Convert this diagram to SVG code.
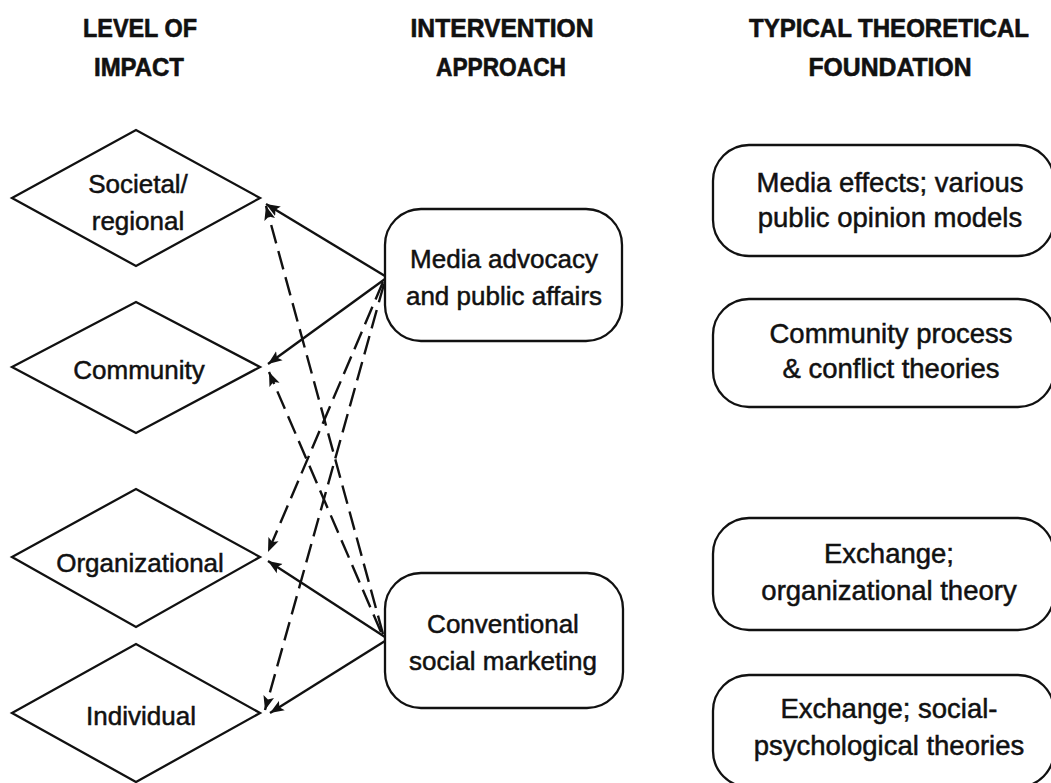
<svg xmlns="http://www.w3.org/2000/svg" width="1051" height="783" viewBox="0 0 1051 783">
  <style>
    .bg { fill: #ffffff; }
    .shape { fill: #ffffff; stroke: #111111; stroke-width: 2.3; }
    .label { font-family: "Liberation Sans", Arial, sans-serif; font-size: 26px; fill: #111111; stroke: #111111; stroke-width: 0.5; text-anchor: middle; }
    .wide { font-size: 27.5px; }
    .head { font-family: "Liberation Sans", Arial, sans-serif; font-size: 25px; font-weight: bold; fill: #111111; stroke: #111111; stroke-width: 0.6; text-anchor: middle; }
    .link { fill: none; stroke: #111111; stroke-width: 2.4; marker-end: url(#arrow); }
    .dash { stroke-dasharray: 19 8; }
  </style>
  <defs>
    <marker id="arrow" markerUnits="userSpaceOnUse" markerWidth="16" markerHeight="12" refX="14" refY="6" orient="auto">
      <path d="M0,0.5 L14,6 L0,11.5 L3,6 z" fill="#111111"/>
    </marker>
  </defs>

  <rect class="bg" x="0" y="0" width="1051" height="783"/>

  <!-- column headings -->
  <g id="headings">
    <text class="head" x="140" y="37" textLength="114" lengthAdjust="spacingAndGlyphs">LEVEL OF</text>
    <text class="head" x="139" y="76" textLength="90" lengthAdjust="spacingAndGlyphs">IMPACT</text>
    <text class="head" x="502" y="37" textLength="183" lengthAdjust="spacingAndGlyphs">INTERVENTION</text>
    <text class="head" x="501" y="76" textLength="130" lengthAdjust="spacingAndGlyphs">APPROACH</text>
    <text class="head" x="889" y="37" textLength="280" lengthAdjust="spacingAndGlyphs">TYPICAL THEORETICAL</text>
    <text class="head" x="890" y="76" textLength="163" lengthAdjust="spacingAndGlyphs">FOUNDATION</text>
  </g>

  <!-- connectors: solid = primary influence, dashed = secondary -->
  <g id="connectors">
    <line class="link" x1="385" y1="276" x2="266" y2="204"/>
    <line class="link" x1="385" y1="279" x2="268" y2="364"/>
    <line class="link" x1="385" y1="637" x2="268" y2="561"/>
    <line class="link" x1="385" y1="641" x2="270" y2="713"/>
    <line class="link dash" x1="383" y1="634" x2="266" y2="206"/>
    <line class="link dash" x1="381" y1="632" x2="269" y2="372"/>
    <line class="link dash" x1="383" y1="282" x2="268" y2="552"/>
    <line class="link dash" x1="384" y1="284" x2="265" y2="710"/>
  </g>

  <!-- level of impact -->
  <g id="societal">
    <polygon class="shape" points="12,198 136,130 260,198 136,266"/>
    <text class="label" x="138" y="193">Societal/</text>
    <text class="label" x="138" y="230">regional</text>
  </g>
  <g id="community">
    <polygon class="shape" points="12,367 136,302 260,367 136,433"/>
    <text class="label" x="139" y="379">Community</text>
  </g>
  <g id="organizational">
    <polygon class="shape" points="12,557 136,489 260,557 136,627"/>
    <text class="label" x="140" y="572">Organizational</text>
  </g>
  <g id="individual">
    <polygon class="shape" points="12,713 136,644 260,713 136,782"/>
    <text class="label" x="141" y="725">Individual</text>
  </g>

  <!-- intervention approach -->
  <g id="media-advocacy">
    <rect class="shape" x="385" y="209" width="237" height="132" rx="36" ry="36"/>
    <text class="label" x="504" y="268">Media advocacy</text>
    <text class="label" x="504" y="305">and public affairs</text>
  </g>
  <g id="social-marketing">
    <rect class="shape" x="385" y="573" width="238" height="135" rx="36" ry="36"/>
    <text class="label" x="503" y="633">Conventional</text>
    <text class="label" x="503" y="670">social marketing</text>
  </g>

  <!-- typical theoretical foundation -->
  <g id="media-effects">
    <rect class="shape" x="713" y="145" width="341" height="111" rx="36" ry="36"/>
    <text class="label wide" x="890" y="192">Media effects; various</text>
    <text class="label wide" x="890" y="227">public opinion models</text>
  </g>
  <g id="community-process">
    <rect class="shape" x="713" y="299" width="341" height="108" rx="36" ry="36"/>
    <text class="label wide" x="891" y="343">Community process</text>
    <text class="label wide" x="891" y="378">&amp; conflict theories</text>
  </g>
  <g id="exchange-organizational">
    <rect class="shape" x="713" y="518" width="341" height="112" rx="36" ry="36"/>
    <text class="label wide" x="889" y="563">Exchange;</text>
    <text class="label wide" x="889" y="600">organizational theory</text>
  </g>
  <g id="exchange-social">
    <rect class="shape" x="713" y="675" width="341" height="112" rx="36" ry="36"/>
    <text class="label wide" x="889" y="718">Exchange; social-</text>
    <text class="label wide" x="889" y="755">psychological theories</text>
  </g>
</svg>
